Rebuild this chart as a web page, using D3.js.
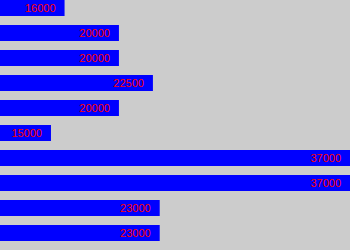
<!DOCTYPE html>
<html>
<head>
<meta charset="utf-8">
<script src="https://cdn.jsdelivr.net/npm/d3@7"></script>
<style>
    html, body { margin: 0; padding: 0; background: #cccccc; }
    svg { display: block; }
</style>
</head>
<body>
<div id="svg-container"></div>
<script>
// chart data
const categories = ['1', '2', '3', '4', '5', '6', '7', '8', '9', '10'];
const values = [16000, 20000, 20000, 22500, 20000, 15000, 37000, 37000, 23000, 23000];
const xDomain = [11250, 37000];

const width = 350;
const height = 250;

const svg = d3.select('#svg-container')
    .append('svg')
    .attr('width', width)
    .attr('height', height);

svg.append('rect')
    .attr('width', width)
    .attr('height', height)
    .attr('fill', '#cccccc');

const x = d3.scaleLinear().domain(xDomain).range([0, width]);
const y = d3.scaleBand()
    .domain(categories)
    .range([0, height])
    .paddingInner(0.36)
    .paddingOuter(0.18)
    .align(0);

const rows = categories.map((c, i) => ({ name: c, value: values[i] }));

// bars
svg.selectAll('rect.bar')
    .data(rows)
    .enter()
    .append('rect')
    .attr('class', 'bar')
    .attr('x', 0)
    .attr('y', d => y(d.name))
    .attr('width', d => x(d.value))
    .attr('height', y.bandwidth())
    .attr('fill', '#0000ff');

// value labels at the bar end
svg.selectAll('text.label')
    .data(rows)
    .enter()
    .append('text')
    .attr('class', 'label')
    .attr('x', d => x(d.value) - 9)
    .attr('y', d => y(d.name) + y.bandwidth() / 2)
    .attr('dy', '0.35em')
    .attr('text-anchor', 'end')
    .style('font-family', '"Liberation Sans", Arial, sans-serif')
    .style('font-size', '11px')
    .style('fill', '#ff0000')
    .text(d => d.value);
</script>
</body>
</html>
